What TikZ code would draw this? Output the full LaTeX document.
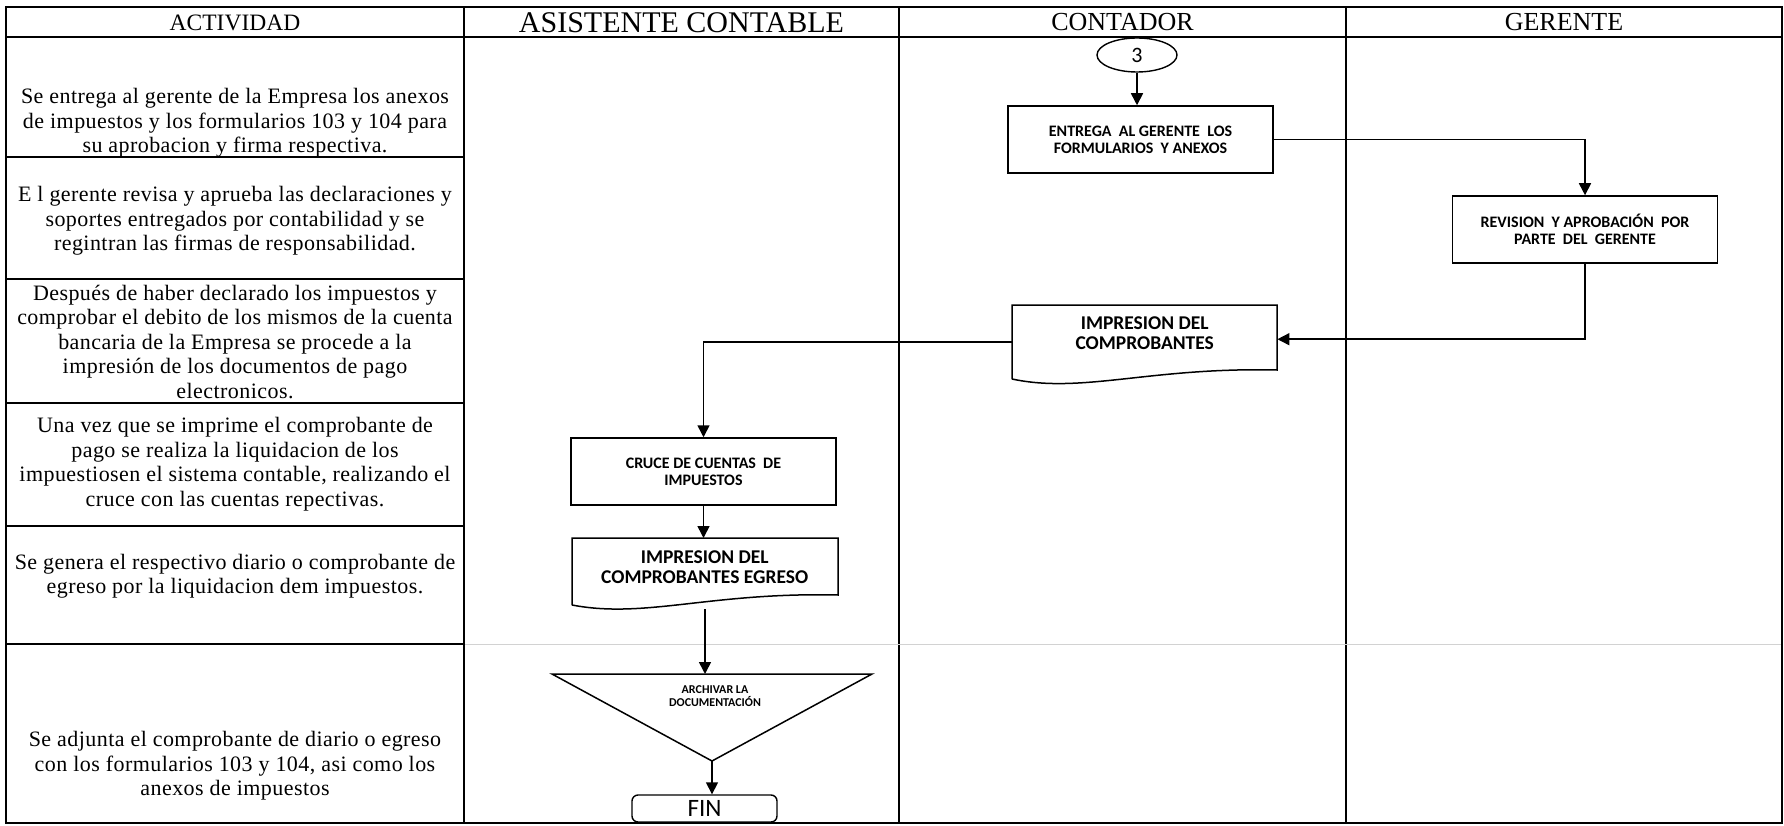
\documentclass[tikz,border=0pt]{standalone}
\usepackage{fontspec}
\setmainfont{Liberation Serif}
\newfontfamily\calib{Carlito}
\newfontfamily\rowf[LetterSpace=2]{Liberation Serif}
\usetikzlibrary{arrows.meta,shapes.geometric,calc}
\begin{document}
\begin{tikzpicture}[x=1pt,y=-1pt,
 tbl/.style={line width=1.4pt},
 lane/.style={line width=2.2pt},
 proc/.style={draw, line width=1.5pt, minimum width=265pt, minimum height=67pt, align=center, inner sep=0pt, font=\calib\bfseries\fontsize{16}{17}\selectfont},
 docfr/.style={minimum width=265pt, inner sep=0pt, align=center, font=\calib\bfseries\fontsize{19.5}{19.5}\selectfont},
 docln/.style={line width=1.5pt},
 arr/.style={line width=1.6pt, -{Triangle[length=12pt,width=12pt]}},
 rowtxt/.style={align=center, inner sep=0pt, font=\rowf\fontsize{22}{24.5}\selectfont},
 hdr/.style={inner sep=0pt}]
\useasboundingbox (0,0) rectangle (1784,826);
\fill[white] (0,0) rectangle (1784,826);
% table
\draw[tbl] (6,7) rectangle (1782,823);
\draw[tbl] (6,37) -- (1782,37);
\foreach \x in {464,899,1346} \draw[lane] (\x,7) -- (\x,823);
\foreach \y in {157,279,403,526,644} \draw[lane] (6,\y) -- (464,\y);
\draw[gray!35, line width=1pt] (465,644) -- (1781,644);
% headers
\node[hdr, font=\fontsize{23.5}{23.5}\selectfont] (h1) at (235,22.5) {ACTIVIDAD};
\node[hdr, font=\fontsize{30}{30}\selectfont] (h2) at (681.5,22.5) {ASISTENTE CONTABLE};
\node[hdr, font=\fontsize{26}{26}\selectfont] (h3) at (1122.5,22.5) {CONTADOR};
\node[hdr, font=\fontsize{26}{26}\selectfont] (h4) at (1564,22.5) {GERENTE};
% rows
\node[rowtxt] (r1) at (235,123) {Se entrega al gerente de la Empresa los anexos\\de impuestos y los formularios 103 y 104 para\\su aprobacion y firma respectiva.};
\node[rowtxt] (r2) at (235,221) {E l gerente revisa y aprueba las declaraciones y\\soportes entregados por contabilidad y se\\regintran las firmas de responsabilidad.};
\node[rowtxt] (r3) at (235,342) {Después de haber declarado los impuestos y\\comprobar el debito de los mismos de la cuenta\\bancaria de la Empresa se procede a la\\impresión de los documentos de pago\\electronicos.};
\node[rowtxt] (r4) at (235,464) {Una vez que se imprime el comprobante de\\pago se realiza la liquidacion de los\\impuestiosen el sistema contable, realizando el\\cruce con las cuentas repectivas.};
\node[rowtxt] (r5) at (235,576) {Se genera el respectivo diario o comprobante de\\egreso por la liquidacion dem impuestos.};
\node[rowtxt] (r6) at (235,766) {Se adjunta el comprobante de diario o egreso\\con los formularios 103 y 104, asi como los\\anexos de impuestos};
% flow
\node[draw, ellipse, line width=1.4pt, minimum width=80pt, minimum height=34pt, inner sep=0pt, font=\calib\fontsize{22}{22}\selectfont] (e3) at (1137,55) {3};
\node[proc] (ent) at (1140.5,139.5) {ENTREGA\ \ AL GERENTE\ \ LOS\\FORMULARIOS\ \ Y ANEXOS};
\node[proc] (rev) at (1585,229.5) {REVISION\ \ Y APROBACIÓN\ \ POR\\PARTE\ \ DEL\ \ GERENTE};
\node[docfr, minimum height=56pt, anchor=north west] (imp) at (1012,305) {IMPRESION DEL\\COMPROBANTES};
\draw[docln] (1012,379) -- (1012,305) -- (1277,305) -- (1277,370) .. controls (1150,367) and (1082,394) .. (1012,379);
\node[proc] (cru) at (703.5,471.5) {CRUCE DE CUENTAS\ \ DE\\IMPUESTOS};
\node[docfr, minimum height=58pt, anchor=north west] (egr) at (572,538) {IMPRESION DEL\\COMPROBANTES EGRESO};
\draw[docln] (572,605) -- (572,538) -- (838,538) -- (838,595) .. controls (710,592) and (645,619) .. (572,605);
\coordinate (tl) at (552,674);
\coordinate (tr) at (872,674);
\coordinate (tap) at (712,761);
\draw[docln] (tl) -- (tr) -- (tap) -- cycle;
\node[font=\calib\bfseries\fontsize{12}{13.5}\selectfont, align=center, inner sep=0pt] (arc) at (715,696) {ARCHIVAR LA\\DOCUMENTACIÓN};
\node[draw, rounded corners=6pt, line width=1.4pt, minimum width=145pt, minimum height=27pt, inner sep=0pt, font=\calib\fontsize{25}{25}\selectfont] (fin) at (704.5,808.5) {FIN};
% connectors
\draw[arr] (e3.south) -- (e3.south |- ent.north);
\draw[arr] (ent.east) -| (rev.north);
\draw[arr] (rev.south) |- ([yshift=-6pt]imp.east);
\draw[arr] ([yshift=-9pt]imp.west) -| (cru.north);
\draw[arr] (cru.south) -- (cru.south |- egr.north);
\coordinate (egrb) at (705,609);
\coordinate (tritop) at (705,674);
\draw[arr] (egrb) -- (tritop);
\draw[arr] (tap) -- (tap |- fin.north);
\end{tikzpicture}
\end{document}
